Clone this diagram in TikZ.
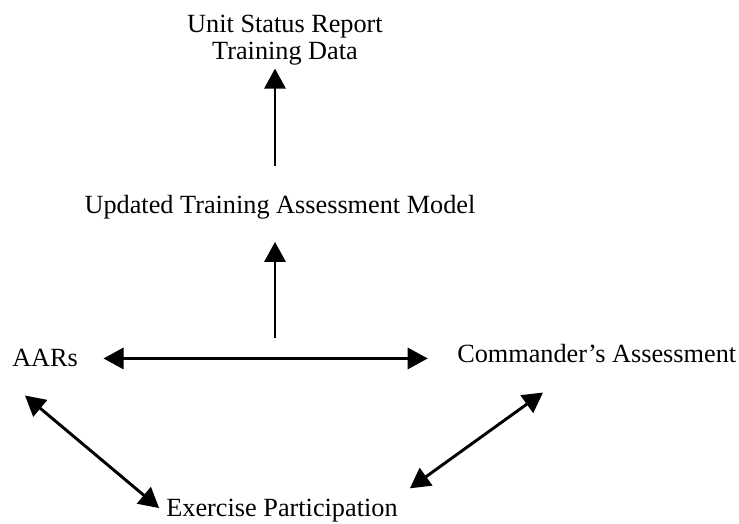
\documentclass[tikz,border=0pt]{standalone}
\usepackage{fontspec}
\setmainfont{Liberation Serif}
\usetikzlibrary{arrows.meta}

\begin{document}
\begin{tikzpicture}[
    x=0.75pt, y=0.75pt,
    label/.style={inner sep=0pt, font=\fontsize{19.7}{20}\selectfont},
    arr/.style={-{Triangle[length=15pt,width=16pt]}, line width=1.6pt},
    dbl/.style={{Triangle[length=15pt,width=16pt]}-{Triangle[length=15pt,width=16pt]}, line width=1.6pt},
]
\useasboundingbox (0,0) rectangle (739,524);

% Report at the top
\node[label, align=center, anchor=north] (report) at (285,509) {Unit Status Report\\Training Data};

% Model in the middle
\node[label, anchor=base] (model) at (280,310) {Updated Training Assessment Model};

% Sources along the bottom
\node[label, anchor=base west] (aars) at (12,157) {AARs};
\node[label, anchor=base west] (cmdr) at (457,161) {Commander’s Assessment};
\node[label, anchor=base] (exercise) at (282,7) {Exercise Participation};

% Spine of the flow
\coordinate (hub) at (275,186);

% Upward flow
\draw[arr, shorten <=22pt, shorten >=2.5pt] (model.north -| hub) -- (report.south -| hub);
\draw[arr, shorten >=16.5pt] (hub) -- (model.south -| hub);

% Two-way links between sources
\draw[dbl, shorten <=19pt, shorten >=22pt] (aars.east) -- (aars.east -| cmdr.west);
\draw[dbl, line width=2.2pt] ([shift={(13,-28)}]aars.south west) -- ([shift={(-7,3)}]exercise.west);
\draw[dbl, line width=2.2pt] ([shift={(86,-29)}]cmdr.south west) -- ([shift={(12,11)}]exercise.north east);

\end{tikzpicture}
\end{document}
